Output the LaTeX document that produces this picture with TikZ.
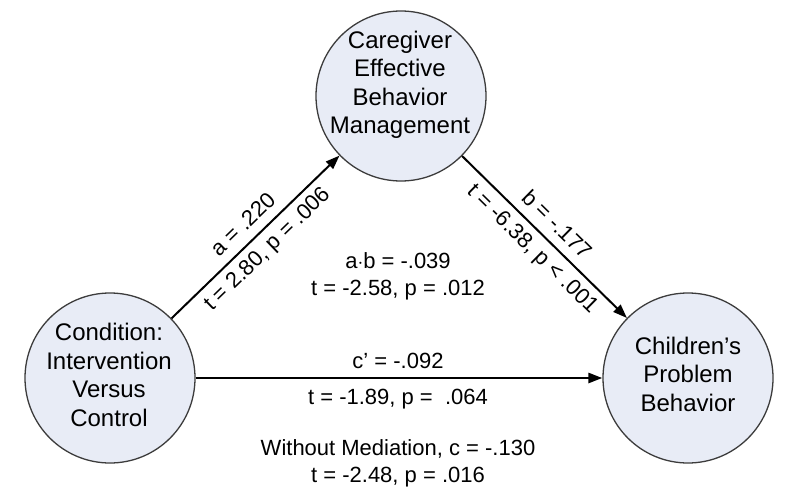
\documentclass[tikz,border=0pt]{standalone}
\usepackage{fontspec}
\setmainfont{Liberation Sans}
\usetikzlibrary{arrows.meta}
\definecolor{nodefill}{RGB}{232,236,246}
\definecolor{nodeline}{RGB}{60,60,60}
\tikzset{
  var/.style={circle, draw=nodeline, line width=1.3pt, fill=nodefill, minimum size=170pt, inner sep=0pt},
  vartext/.style={align=center, inner sep=0pt, font=\fontsize{24}{28.5}\selectfont},
  path/.style={draw=black, line width=2pt, -{Triangle[length=14pt,width=10pt]}},
  lab/.style={inner sep=0pt, font=\fontsize{22}{26}\selectfont}
}
\begin{document}
\begin{tikzpicture}[x=1pt,y=-1pt]
\useasboundingbox (0,0) rectangle (790,487);
\fill[white] (0,0) rectangle (790,487);
% variables
\node[var] (M) at (401,96) {};
\node[var] (X) at (110,378) {};
\node[var] (Y) at (688,378) {};
\node[vartext] (Mt) at (400,85) {Caregiver\\Effective\\Behavior\\Management};
\node[vartext] (Xt) at (109,375) {Condition:\\Intervention\\Versus\\Control};
\node[vartext] (Yt) at (688,374) {Children’s\\Problem\\Behavior};
% paths
\draw[path] (X) -- node[lab, sloped, above=9pt] (al) {a = .220}
                   node[lab, sloped, below=7pt] (at) {t = 2.80, p = .006} (M);
\draw[path] (M) -- node[lab, sloped, above=9pt] (bl) {b = -.177}
                   node[lab, sloped, below=7pt] (bt) {t = -6.38, p < .001} (Y);
\draw[path, line width=2.6pt] (X) -- (Y);
% central labels
\node[lab, anchor=base] (ab) at (398,268) {a$\cdot$b = -.039};
\node[lab, anchor=base] (abt) at (398,295) {t = -2.58, p = .012};
\node[lab, anchor=base] (cp) at (398,368) {c’ = -.092};
\node[lab, anchor=base] (cpt) at (398,404) {t = -1.89, p = \ .064};
\node[lab, anchor=base] (c) at (398,455) {Without Mediation, c = -.130};
\node[lab, anchor=base] (ct) at (398,482) {t = -2.48, p = .016};
\end{tikzpicture}
\end{document}
